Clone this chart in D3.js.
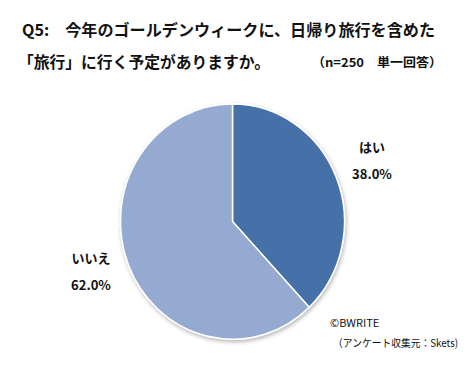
<!DOCTYPE html>
<html><head><meta charset="utf-8">
<script src="https://cdn.jsdelivr.net/npm/d3@7"></script>
<style>body{margin:0;background:#fff}svg{display:block}text{font-family:"Noto Sans CJK JP","Noto Sans",sans-serif}</style>
</head><body><svg id="c" width="471" height="367"></svg>
<script>
const categories = ["はい", "いいえ"];
const values = [38.0, 62.0];
const colors = ["#4571A8", "#95AAD0"];
const titleLines = ["Q5:　今年のゴールデンウィークに、日帰り旅行を含めた", "「旅行」に行く予定がありますか。"];
const note = "（n=250　単一回答）";
const credits = ["©BWRITE", "（アンケート収集元：Skets)"];

const svg = d3.select("#c");
svg.append("text").attr("x", 22).attr("y", 36).attr("font-size", 16).attr("font-weight", "bold").attr("fill", "#111")
  .attr("textLength", 413).attr("lengthAdjust", "spacingAndGlyphs").text(titleLines[0]);
svg.append("text").attr("x", 18).attr("y", 68).attr("font-size", 16).attr("font-weight", "bold").attr("fill", "#111")
  .attr("textLength", 252).attr("lengthAdjust", "spacingAndGlyphs").text(titleLines[1]);
svg.append("text").attr("x", 312).attr("y", 67).attr("font-size", 12.5).attr("font-weight", "bold").attr("fill", "#111")
  .attr("textLength", 130).attr("lengthAdjust", "spacingAndGlyphs").text(note);

const cx = 232.5, cy = 221.5, r = 112;
const defs = svg.append("defs");
const f = defs.append("filter").attr("id", "sh").attr("x", "-10%").attr("y", "-10%").attr("width", "130%").attr("height", "130%");
f.append("feGaussianBlur").attr("in", "SourceAlpha").attr("stdDeviation", 2);
f.append("feOffset").attr("dx", 1).attr("dy", 2).attr("result", "b");
f.append("feComponentTransfer").append("feFuncA").attr("type", "linear").attr("slope", 0.3);
const m = f.append("feMerge"); m.append("feMergeNode"); m.append("feMergeNode").attr("in", "SourceGraphic");

const pie = d3.pie().sort(null).value(d => d)(values);
const arc = d3.arc().innerRadius(0).outerRadius(r);
const g = svg.append("g").attr("transform", `translate(${cx},${cy}) scale(1,1.05)`).attr("filter", "url(#sh)");
g.selectAll("path").data(pie).join("path")
  .attr("d", arc).attr("fill", (d, i) => colors[i])
  .attr("stroke", "#fff").attr("stroke-width", 1.5);

const labelPos = [[372, 152], [91, 263]];
categories.forEach((c, i) => {
  svg.append("text").attr("x", labelPos[i][0]).attr("y", labelPos[i][1]).attr("text-anchor", "middle")
    .attr("font-size", 13).attr("font-weight", "bold").attr("fill", "#111").text(c);
  svg.append("text").attr("x", labelPos[i][0]).attr("y", labelPos[i][1] + 27).attr("text-anchor", "middle")
    .attr("font-size", 13).attr("font-weight", "bold").attr("fill", "#111").text(values[i].toFixed(1) + "%");
});

svg.append("text").attr("x", 330).attr("y", 327).attr("font-size", 11).attr("fill", "#111").text(credits[0]);
svg.append("text").attr("x", 333).attr("y", 347).attr("font-size", 10.5).attr("fill", "#111")
  .attr("textLength", 125).attr("lengthAdjust", "spacingAndGlyphs").text(credits[1]);
</script></body></html>
